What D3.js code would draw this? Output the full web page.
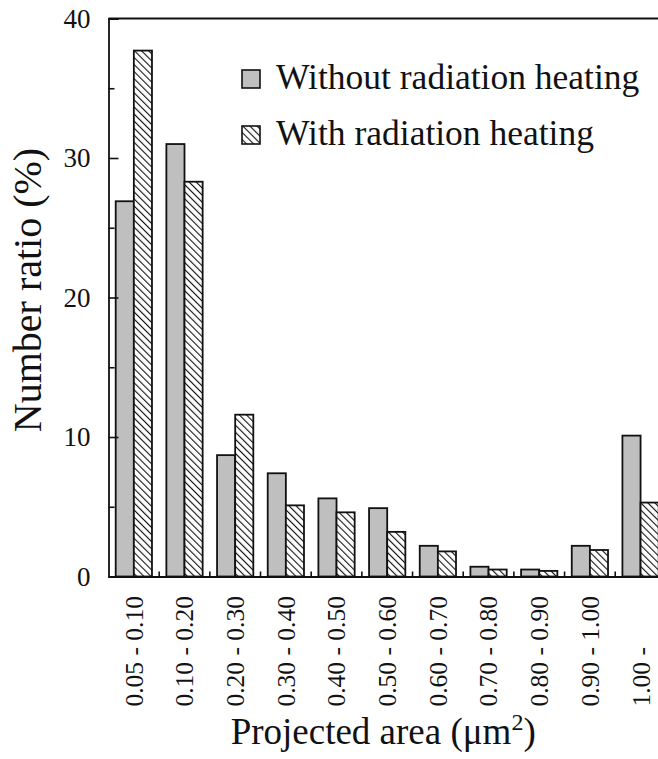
<!DOCTYPE html>
<html>
<head>
<meta charset="utf-8">
<script src="https://cdn.jsdelivr.net/npm/d3@7"></script>
<style>
  html, body { margin: 0; padding: 0; background: #fff; }
  svg { display: block; overflow: hidden; }
  text { font-family: "Liberation Serif", "Times New Roman", serif; fill: #111; }
</style>
</head>
<body>
<svg id="chart" width="658" height="759"></svg>
<script>
// Size classes of projected particle area (µm²)
const categories = [
  "0.05 - 0.10", "0.10 - 0.20", "0.20 - 0.30", "0.30 - 0.40", "0.40 - 0.50",
  "0.50 - 0.60", "0.60 - 0.70", "0.70 - 0.80", "0.80 - 0.90", "0.90 - 1.00", "1.00 -"
];
// Number ratio (%) per size class
const withoutHeating = [26.9, 31.0, 8.7, 7.4, 5.6, 4.9, 2.2, 0.7, 0.5, 2.2, 10.1];
const withHeating    = [37.7, 28.3, 11.6, 5.1, 4.6, 3.2, 1.8, 0.5, 0.4, 1.9, 5.3];
const seriesNames = ["Without radiation heating", "With radiation heating"];
const yMajorTicks = [0, 10, 20, 30, 40];
const yMinorTicks = [5, 15, 25, 35];

const svg = d3.select("#chart");
const margin = { left: 108.5, top: 18.5 };
const plotW = 557.4, plotH = 558;

const g = svg.append("g").attr("transform", `translate(${margin.left},${margin.top})`);

const x = d3.scaleBand().domain(categories).range([0, plotW]).padding(0);
const xs = d3.scaleBand().domain(seriesNames).range([7.2, x.bandwidth() - 7.2]).padding(0);
const y = d3.scaleLinear().domain([0, 40]).range([plotH, 0]);

// back-slash hatch for the heated series
const defs = svg.append("defs");
defs.append("pattern")
  .attr("id", "hatch")
  .attr("patternUnits", "userSpaceOnUse")
  .attr("width", 5).attr("height", 5)
  .attr("patternTransform", "rotate(-45)")
  .call(p => {
    p.append("rect").attr("width", 5).attr("height", 5).attr("fill", "#fff");
    p.append("line").attr("x1", 0).attr("y1", 0).attr("x2", 0).attr("y2", 5)
      .attr("stroke", "#111").attr("stroke-width", 2.2);
  });

const fills = { [seriesNames[0]]: "#bfbfbf", [seriesNames[1]]: "url(#hatch)" };

const rows = categories.map((c, i) => ({
  cat: c,
  values: [
    { name: seriesNames[0], v: withoutHeating[i] },
    { name: seriesNames[1], v: withHeating[i] }
  ]
}));

// bars
g.selectAll("g.cat").data(rows).join("g")
  .attr("class", "cat")
  .attr("transform", d => `translate(${x(d.cat)},0)`)
  .selectAll("rect").data(d => d.values).join("rect")
  .attr("x", d => xs(d.name))
  .attr("width", xs.bandwidth())
  .attr("y", d => y(d.v))
  .attr("height", d => y(0) - y(d.v))
  .attr("fill", d => fills[d.name])
  .attr("stroke", "#111")
  .attr("stroke-width", 1.8);

// y axis: inward major and minor ticks
const yAxis = g.append("g")
  .call(d3.axisLeft(y).tickValues(yMajorTicks).tickSize(-10).tickPadding(18).tickFormat(d3.format("d")));
yAxis.select(".domain").attr("stroke", "#111").attr("stroke-width", 1.8);
yAxis.selectAll(".tick line").attr("stroke", "#111").attr("stroke-width", 1.6);
yAxis.selectAll(".tick text").attr("font-size", 27).attr("font-family", "Liberation Serif");

const yMinor = g.append("g")
  .call(d3.axisLeft(y).tickValues(yMinorTicks).tickSize(-6).tickFormat(""));
yMinor.select(".domain").remove();
yMinor.selectAll(".tick line").attr("stroke", "#111").attr("stroke-width", 1.6);

// top frame line
g.append("line")
  .attr("x1", 0).attr("x2", plotW).attr("y1", y(40)).attr("y2", y(40))
  .attr("stroke", "#111").attr("stroke-width", 1.8);

// x axis with rotated class labels
const xAxis = g.append("g")
  .attr("transform", `translate(0,${plotH})`)
  .call(d3.axisBottom(x).tickSize(0).tickPadding(0));
xAxis.select(".domain").attr("stroke", "#111").attr("stroke-width", 1.8);
xAxis.selectAll(".tick text")
  .attr("font-size", 25.5)
  .attr("font-family", "Liberation Serif")
  .attr("text-anchor", "start")
  .attr("transform", "translate(0,130) rotate(-90)")
  .attr("x", 0).attr("y", 0).attr("dy", "0.35em");

// small upward ticks on class boundaries
g.selectAll("line.boundary").data(categories.slice(1)).join("line")
  .attr("class", "boundary")
  .attr("x1", d => x(d)).attr("x2", d => x(d))
  .attr("y1", plotH).attr("y2", plotH - 5)
  .attr("stroke", "#111").attr("stroke-width", 1.6);

// axis titles
svg.append("text")
  .attr("transform", "translate(41,290) rotate(-90)")
  .attr("text-anchor", "middle")
  .attr("font-size", 40)
  .text("Number ratio (%)");

svg.append("text")
  .attr("x", margin.left + plotW / 2 - 4)
  .attr("y", 744)
  .attr("text-anchor", "middle")
  .attr("font-size", 37)
  .call(t => {
    t.append("tspan").text("Projected area (\u03bcm");
    t.append("tspan").attr("font-size", 24).attr("dy", -14).text("2");
    t.append("tspan").attr("dy", 14).text(")");
  });

// legend
const legend = svg.append("g").attr("transform", "translate(242,70)");
const li = legend.selectAll("g").data(seriesNames).join("g")
  .attr("transform", (d, i) => `translate(0,${i * 56})`);
li.append("rect")
  .attr("width", 18).attr("height", 18)
  .attr("fill", d => fills[d])
  .attr("stroke", "#111").attr("stroke-width", 1.6);
li.append("text")
  .attr("x", 34).attr("y", 19)
  .attr("font-size", 35.5)
  .text(d => d);
</script>
</body>
</html>
